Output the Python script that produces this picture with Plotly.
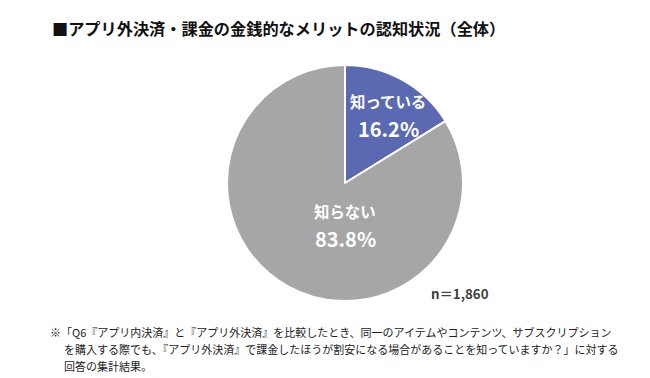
import plotly.graph_objects as go

labels = ["知っている", "知らない"]
values = [16.2, 83.8]
colors = ["#5A69B2", "#A6A6A6"]
title_text = "■アプリ外決済・課金の金銭的なメリットの認知状況（全体）"
n_text = "n＝1,860"
notes = [
    "※「Q6『アプリ内決済』と『アプリ外決済』を比較したとき、同一のアイテムやコンテンツ、サブスクリプション",
    "を購入する際でも、『アプリ外決済』で課金したほうが割安になる場合があることを知っていますか？」に対する",
    "回答の集計結果。",
]

W, H = 650, 378
FONT = "Noto Sans CJK JP"


def px(x):
    return x / W


def py(y):
    return 1 - y / H


cx, cy, r = 337, 175, 118

fig = go.Figure(
    go.Pie(
        labels=labels,
        values=values,
        sort=False,
        direction="clockwise",
        rotation=0,
        marker=dict(colors=colors, line=dict(color="white", width=2)),
        textinfo="none",
        hoverinfo="label+percent",
        showlegend=False,
        domain=dict(x=[px(cx - r), px(cx + r)], y=[py(cy + r), py(cy - r)]),
    )
)

ann = []
label_pos = [(380, 93, 120), (337, 203, 230)]
for (lab, val), (x, y1, y2) in zip(zip(labels, values), label_pos):
    ann.append(dict(x=px(x), y=py(y1), text=f"<b>{lab}</b>", showarrow=False,
                    xref="paper", yref="paper", xanchor="center", yanchor="middle",
                    font=dict(family=FONT, size=15.4, color="white")))
    ann.append(dict(x=px(x), y=py(y2), text=f"<b>{val:.1f}%</b>", showarrow=False,
                    xref="paper", yref="paper", xanchor="center", yanchor="middle",
                    font=dict(family=FONT, size=20, color="white")))

ann.append(dict(x=px(42), y=py(20), text=f"<b>{title_text}</b>", showarrow=False,
                xref="paper", yref="paper", xanchor="left", yanchor="middle",
                font=dict(family=FONT, size=16.2, color="#111111")))
ann.append(dict(x=px(421), y=py(285), text=f"<b>{n_text}</b>", showarrow=False,
                xref="paper", yref="paper", xanchor="left", yanchor="middle",
                font=dict(family=FONT, size=13.3, color="#404040")))

note_pos = [(40, 324), (54, 341), (54, 358)]
for t, (x, y) in zip(notes, note_pos):
    ann.append(dict(x=px(x), y=py(y), text=t, showarrow=False,
                    xref="paper", yref="paper", xanchor="left", yanchor="middle",
                    font=dict(family=FONT, size=11, color="#222222")))

fig.update_layout(
    width=W, height=H,
    margin=dict(l=0, r=0, t=0, b=0),
    paper_bgcolor="white",
    plot_bgcolor="white",
    annotations=ann,
)

fig.write_html("out.html")
